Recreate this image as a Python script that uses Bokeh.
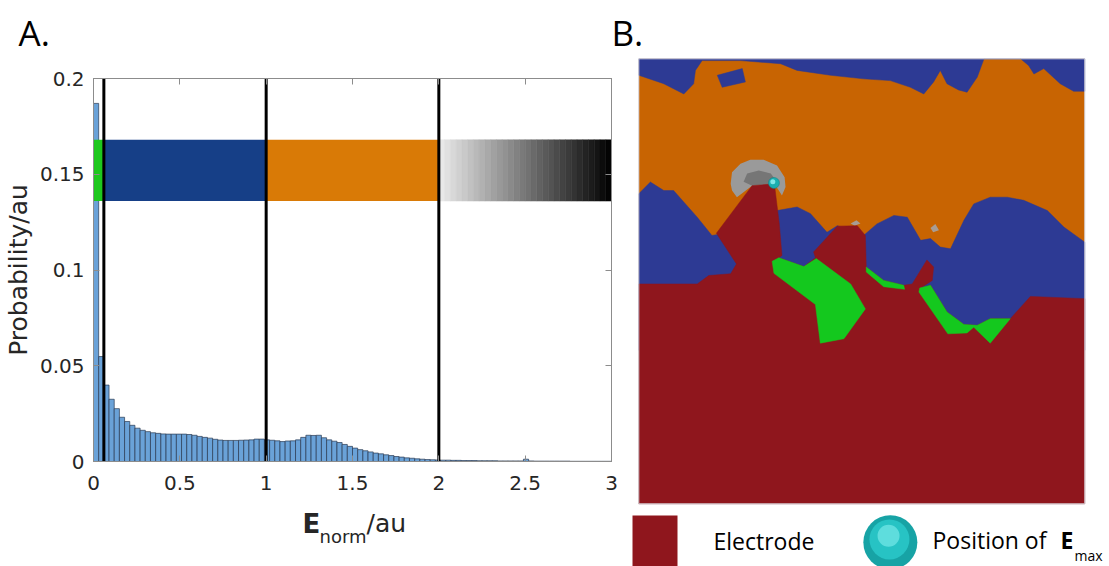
from bokeh.plotting import figure
from bokeh.models import Range1d, Label, LinearAxis, FixedTicker
from bokeh.layouts import row, column
from bokeh.embed import file_html
from bokeh.resources import INLINE

# ---------------- Panel A data ----------------
bin_width = 0.03
probability = [
    0.187, 0.0548, 0.0399, 0.0325, 0.0276, 0.0231, 0.0209, 0.0189, 0.0174, 0.0163,
    0.0156, 0.0150, 0.0147, 0.0144, 0.0143, 0.0143, 0.0143, 0.0143, 0.0141, 0.0137,
    0.0131, 0.0126, 0.0122, 0.0116, 0.0112, 0.0110, 0.0110, 0.0110, 0.0111, 0.0112,
    0.0113, 0.0117, 0.0117, 0.0113, 0.0111, 0.0108, 0.0104, 0.0107, 0.0108, 0.0113,
    0.0126, 0.0137, 0.0136, 0.0137, 0.0124, 0.0113, 0.0106, 0.0099, 0.0089, 0.0079,
    0.0070, 0.0062, 0.0056, 0.0050, 0.0044, 0.0040, 0.0035, 0.0031, 0.0026, 0.0023,
    0.0019, 0.0017, 0.0014, 0.0012, 0.0010, 0.0009, 0.0008,
    0.0007, 0.0007, 0.0006, 0.0006, 0.0005, 0.0005, 0.0005, 0.0004, 0.0004, 0.0004,
    0.0004, 0.0003, 0.0003, 0.0003, 0.0003, 0.0003, 0.0012, 0.0003, 0.0002, 0.0002,
    0.0002, 0.0002, 0.0002, 0.0002, 0.0002, 0.0001, 0.0001, 0.0001, 0.0001, 0.0001,
    0.0001, 0.0001, 0.0001,
]
bin_left = [round(i * bin_width, 4) for i in range(len(probability))]
bin_right = [round(l + bin_width, 4) for l in bin_left]

threshold_x = [0.06, 1.0, 2.0]
band_bottom, band_top = 0.136, 0.168
band_left = [0.0, 0.06, 1.0]
band_right = [0.06, 1.0, 2.0]
band_colors = ["#1ec81e", "#163f87", "#d97a06"]
gradient_range = [2.0, 3.0]
gradient_steps = 30

x_ticks = [0, 0.5, 1, 1.5, 2, 2.5, 3]
x_tick_labels = ["0", "0.5", "1", "1.5", "2", "2.5", "3"]
y_ticks = [0, 0.05, 0.1, 0.15, 0.2]
y_tick_labels = ["0", "0.05", "0.1", "0.15", "0.2"]

# ---------------- Panel B data (image square 0..100) ----------------
blue_top_x = [0, 100, 100, 97.5, 94.5, 90.8, 88.6, 87.4, 85.6, 77.4, 75.9, 73.6, 71.7, 69.1, 67.6,
              66.1, 63.9, 60.9, 56.4, 50.4, 43.0, 35.5, 31.8, 22.8, 14.2, 12.7, 12.3, 10.1, 5.6, 0]
blue_top_y = [100, 100, 92.7, 92.7, 94.4, 97.8, 96.6, 98.5, 100, 100, 95.9, 92.5, 93.0, 94.4, 97.4,
              94.8, 92.1, 93.6, 95.1, 95.5, 96.3, 97.4, 98.9, 99.6, 99.6, 97.4, 94.4, 92.1, 94.4, 96.3]
blue_island_x = [17.6, 23.2, 23.9, 18.7]
blue_island_y = [96.3, 97.8, 94.8, 93.6]
blue_low_x = [0, 2.6, 5.6, 7.8, 13.1, 16.4, 20.6, 31.0, 35.5, 38.5, 42.2, 44.5, 50.4, 53.4, 57.2,
              60.2, 63.2, 65.4, 67.6, 69.9, 72.9, 75.1, 78.8, 82.6, 86.3, 91.6, 95.3, 100, 100, 0]
blue_low_y = [69.7, 72.3, 70.4, 70.4, 64.4, 60.3, 61.0, 65.9, 66.7, 65.2, 61.0, 62.5, 60.3, 62.9, 64.8,
              64.4, 59.2, 59.6, 57.7, 57.3, 63.7, 67.4, 68.9, 68.9, 68.2, 65.9, 62.2, 58.8, 34.5, 34.5]
electrode_x = [0, 13.1, 15.7, 20.6, 21.9, 17.4, 25.4, 30.4, 31.5, 32.1, 31.4, 37.0, 39.6, 39.2, 44.5,
               49.0, 50.8, 51.0, 54.9, 59.4, 61.3, 64.6, 66.1, 65.8, 63.2, 65.4, 69.1, 72.9, 75.9,
               78.8, 83.3, 87.8, 100, 100, 0]
electrode_y = [49.4, 49.4, 51.3, 51.7, 53.9, 60.8, 71.5, 71.9, 62.9, 55.8, 55.3, 53.3, 55.3, 56.6, 62.4,
               62.5, 60.3, 53.2, 50.2, 49.1, 49.4, 54.8, 53.2, 50.2, 48.5, 49.1, 43.1, 40.3, 40.1,
               41.6, 41.6, 46.6, 46.1, 0, 0]
green_xs = [
    [29.9, 31.4, 37.0, 39.8, 47.5, 50.8, 46.0, 40.7, 39.6, 30.3],
    [51.0, 54.9, 59.4, 59.6, 54.9, 51.0],
    [63.0, 65.4, 69.1, 72.9, 75.9, 78.8, 83.3, 78.8, 75.1, 73.6, 69.3, 62.8],
]
green_ys = [
    [54.5, 55.3, 53.3, 55.1, 49.4, 43.8, 37.1, 36.1, 44.8, 51.8],
    [53.2, 50.2, 49.1, 48.2, 48.8, 52.1],
    [48.5, 49.1, 43.1, 40.3, 40.1, 41.6, 41.6, 36.1, 39.7, 38.4, 38.2, 47.6],
]
halo_outer_x = [20.6, 20.9, 22.8, 25.0, 28.0, 31.0, 32.7, 32.9, 32.1, 31.4, 30.4, 25.4, 22.0, 20.9]
halo_outer_y = [71.9, 74.5, 76.4, 77.3, 77.3, 76.0, 73.4, 71.2, 69.3, 70.4, 71.9, 71.5, 68.9, 70.4]
halo_inner_x = [23.5, 24.3, 26.9, 29.6, 31.0, 30.4, 25.4]
halo_inner_y = [72.4, 74.2, 74.9, 74.2, 72.3, 71.9, 71.5]
speck_xs = [[47.5, 48.8, 49.7, 48.4], [65.4, 66.5, 67.3, 66.0]]
speck_ys = [[63.0, 63.7, 63.0, 62.5], [62.0, 62.9, 61.5, 61.0]]
emax_x = [30.3]
emax_y = [72.1]

TICK_FONT = "DejaVu Sans"
TXT = "#262626"
AXC = "#8c8c8c"


def bare(fig):
    fig.grid.visible = False
    fig.outline_line_color = None
    fig.background_fill_color = "white"
    fig.border_fill_color = "white"
    return fig


# ---------------- header strip with panel letters ----------------
hd = bare(figure(width=1109, height=58, x_range=Range1d(0, 1), y_range=Range1d(0, 1),
                 output_backend="svg", toolbar_location=None, min_border=0,
                 x_axis_location=None, y_axis_location=None))
hd.add_layout(Label(x=18, y=26, x_units="screen", y_units="screen", text="A.",
                    text_font="Open Sans", text_font_size="35px", text_color="black",
                    text_align="left", text_baseline="alphabetic"))
hd.add_layout(Label(x=611, y=26, x_units="screen", y_units="screen", text="B.",
                    text_font="Open Sans", text_font_size="35px", text_color="black",
                    text_align="left", text_baseline="alphabetic"))

# ---------------- Panel A ----------------
pa = figure(width=618, height=447, x_range=Range1d(0, 3), y_range=Range1d(0, 0.2),
            output_backend="svg", toolbar_location=None,
            min_border_left=93, min_border_right=7, min_border_top=20, min_border_bottom=44)
pa.grid.visible = False
pa.outline_line_color = AXC
pa.background_fill_color = "white"
pa.border_fill_color = "white"

pa.xaxis.ticker = FixedTicker(ticks=x_ticks)
pa.xaxis.major_label_overrides = {t: s for t, s in zip(x_ticks, x_tick_labels)}
pa.yaxis.ticker = FixedTicker(ticks=y_ticks)
pa.yaxis.major_label_overrides = {t: s for t, s in zip(y_ticks, y_tick_labels)}
for ax in (pa.xaxis[0], pa.yaxis[0]):
    ax.major_tick_in = 6
    ax.major_tick_out = 0
    ax.minor_tick_line_color = None
    ax.axis_line_color = AXC
    ax.major_tick_line_color = AXC
    ax.major_label_text_font = TICK_FONT
    ax.major_label_text_font_size = "20px"
    ax.major_label_text_color = TXT
pa.xaxis.major_label_standoff = 14
pa.yaxis.major_label_standoff = 9
pa.yaxis.axis_label = "Probability/au"
pa.yaxis.axis_label_text_font = TICK_FONT
pa.yaxis.axis_label_text_font_size = "25px"
pa.yaxis.axis_label_text_font_style = "normal"
pa.yaxis.axis_label_text_color = TXT
pa.yaxis.axis_label_standoff = 4

top_ax = LinearAxis(ticker=FixedTicker(ticks=x_ticks),
                    major_label_overrides={t: "" for t in x_ticks})
right_ax = LinearAxis(ticker=FixedTicker(ticks=y_ticks),
                      major_label_overrides={t: "" for t in y_ticks})
for ax in (top_ax, right_ax):
    ax.major_tick_in = 6
    ax.major_tick_out = 0
    ax.minor_tick_line_color = None
    ax.axis_line_color = AXC
    ax.major_tick_line_color = AXC
    ax.major_label_standoff = 0
    ax.major_label_text_font_size = "1px"
pa.add_layout(top_ax, "above")
pa.add_layout(right_ax, "right")

pa.quad(left=bin_left, right=bin_right, bottom=0, top=probability,
        fill_color="#6aa2d8", line_color="#2a3a52", line_width=0.7)

pa.quad(left=band_left, right=band_right, bottom=band_bottom, top=band_top,
        fill_color=band_colors, line_color=None)
g0, g1 = gradient_range
gw = (g1 - g0) / gradient_steps
g_left = [g0 + i * gw for i in range(gradient_steps)]
g_right = [l + gw for l in g_left]
g_cols = []
for i in range(gradient_steps):
    lv = int(round(236 * (1 - (i + 0.5) / gradient_steps)))
    g_cols.append("#%02x%02x%02x" % (lv, lv, lv))
pa.quad(left=g_left, right=g_right, bottom=band_bottom, top=band_top,
        fill_color=g_cols, line_color=g_cols, line_width=0.5)

pa.segment(x0=threshold_x, y0=0, x1=threshold_x, y1=0.2, line_color="black", line_width=3)

# ---------------- x-axis label strip below panel A ----------------
xl = bare(figure(width=618, height=61, x_range=Range1d(0, 3), y_range=Range1d(0, 1),
                 output_backend="svg", toolbar_location=None,
                 min_border_left=93, min_border_right=7, min_border_top=0, min_border_bottom=0,
                 x_axis_location=None, y_axis_location=None))
xl.add_layout(Label(x=209, y=43, x_units="screen", y_units="screen", text="E",
                    text_font=TICK_FONT, text_font_size="26px", text_font_style="bold",
                    text_color=TXT, text_align="left", text_baseline="alphabetic"))
xl.add_layout(Label(x=226, y=30, x_units="screen", y_units="screen", text="norm",
                    text_font=TICK_FONT, text_font_size="18px",
                    text_color=TXT, text_align="left", text_baseline="alphabetic"))
xl.add_layout(Label(x=273, y=43, x_units="screen", y_units="screen", text="/au",
                    text_font=TICK_FONT, text_font_size="25px",
                    text_color=TXT, text_align="left", text_baseline="alphabetic"))

# ---------------- Panel B ----------------
pb = bare(figure(width=491, height=508, x_range=Range1d(-4.55, 105.54), y_range=Range1d(-14.09, 100.07),
                 output_backend="svg", toolbar_location=None, min_border=0,
                 x_axis_location=None, y_axis_location=None))

ORANGE = "#c86402"
BLUE = "#2d3a94"
RED = "#8f161d"
GREEN = "#14c81e"

pb.quad(left=0, right=100, bottom=0, top=100, fill_color=ORANGE, line_color=None)
pb.patches(xs=[blue_top_x, blue_island_x, blue_low_x], ys=[blue_top_y, blue_island_y, blue_low_y],
           fill_color=BLUE, line_color=BLUE, line_width=0.5)
pb.patches(xs=speck_xs, ys=speck_ys, fill_color="#a89c94", line_color=None)
pb.patch(halo_outer_x, halo_outer_y, fill_color="#9a9a9a", line_color=None)
pb.patch(halo_inner_x, halo_inner_y, fill_color="#767676", line_color=None)
pb.patch(electrode_x, electrode_y, fill_color=RED, line_color=RED, line_width=0.5)
pb.patches(xs=green_xs, ys=green_ys, fill_color=GREEN, line_color=GREEN, line_width=0.5)
pb.scatter(emax_x, emax_y, size=11, fill_color="#1aaeb0", line_color="#0e7f80", line_width=0.5)
pb.scatter([e - 0.25 for e in emax_x], [e + 0.3 for e in emax_y], size=5,
           fill_color="#7fe6e6", line_color=None)
pb.quad(left=0, right=100, bottom=0, top=100, fill_color=None, line_color="#d4d4de", line_width=1)

# legend for panel B
pb.quad(left=[-1.41], right=[8.68], bottom=[-14.5], top=[-2.63], fill_color=RED, line_color=None)
pb.scatter([56.4], [-8.65], size=54, fill_color="#17a3a5", line_color=None)
pb.scatter([56.2], [-8.0], size=40, fill_color="#27c3c4", line_color=None)
pb.scatter([56.0], [-7.2], size=22, fill_color="#5edddd", line_color=None)

pb.add_layout(Label(x=95, y=26, x_units="screen", y_units="screen", text="Electrode",
                    text_font="Open Sans", text_font_size="23px", text_color="black",
                    text_align="left", text_baseline="alphabetic"))
pb.add_layout(Label(x=314, y=27, x_units="screen", y_units="screen", text="Position of",
                    text_font="Open Sans", text_font_size="23px", text_color="black",
                    text_align="left", text_baseline="alphabetic"))
pb.add_layout(Label(x=442, y=27, x_units="screen", y_units="screen", text="E",
                    text_font="Open Sans", text_font_size="23px", text_font_style="bold",
                    text_color="black", text_align="left", text_baseline="alphabetic"))
pb.add_layout(Label(x=456, y=11, x_units="screen", y_units="screen", text="max",
                    text_font="Open Sans", text_font_size="14px", text_color="black",
                    text_align="left", text_baseline="alphabetic"))

layout = column(hd, row(column(pa, xl), column(pb)))
open("out.html", "w").write(file_html(layout, INLINE))
